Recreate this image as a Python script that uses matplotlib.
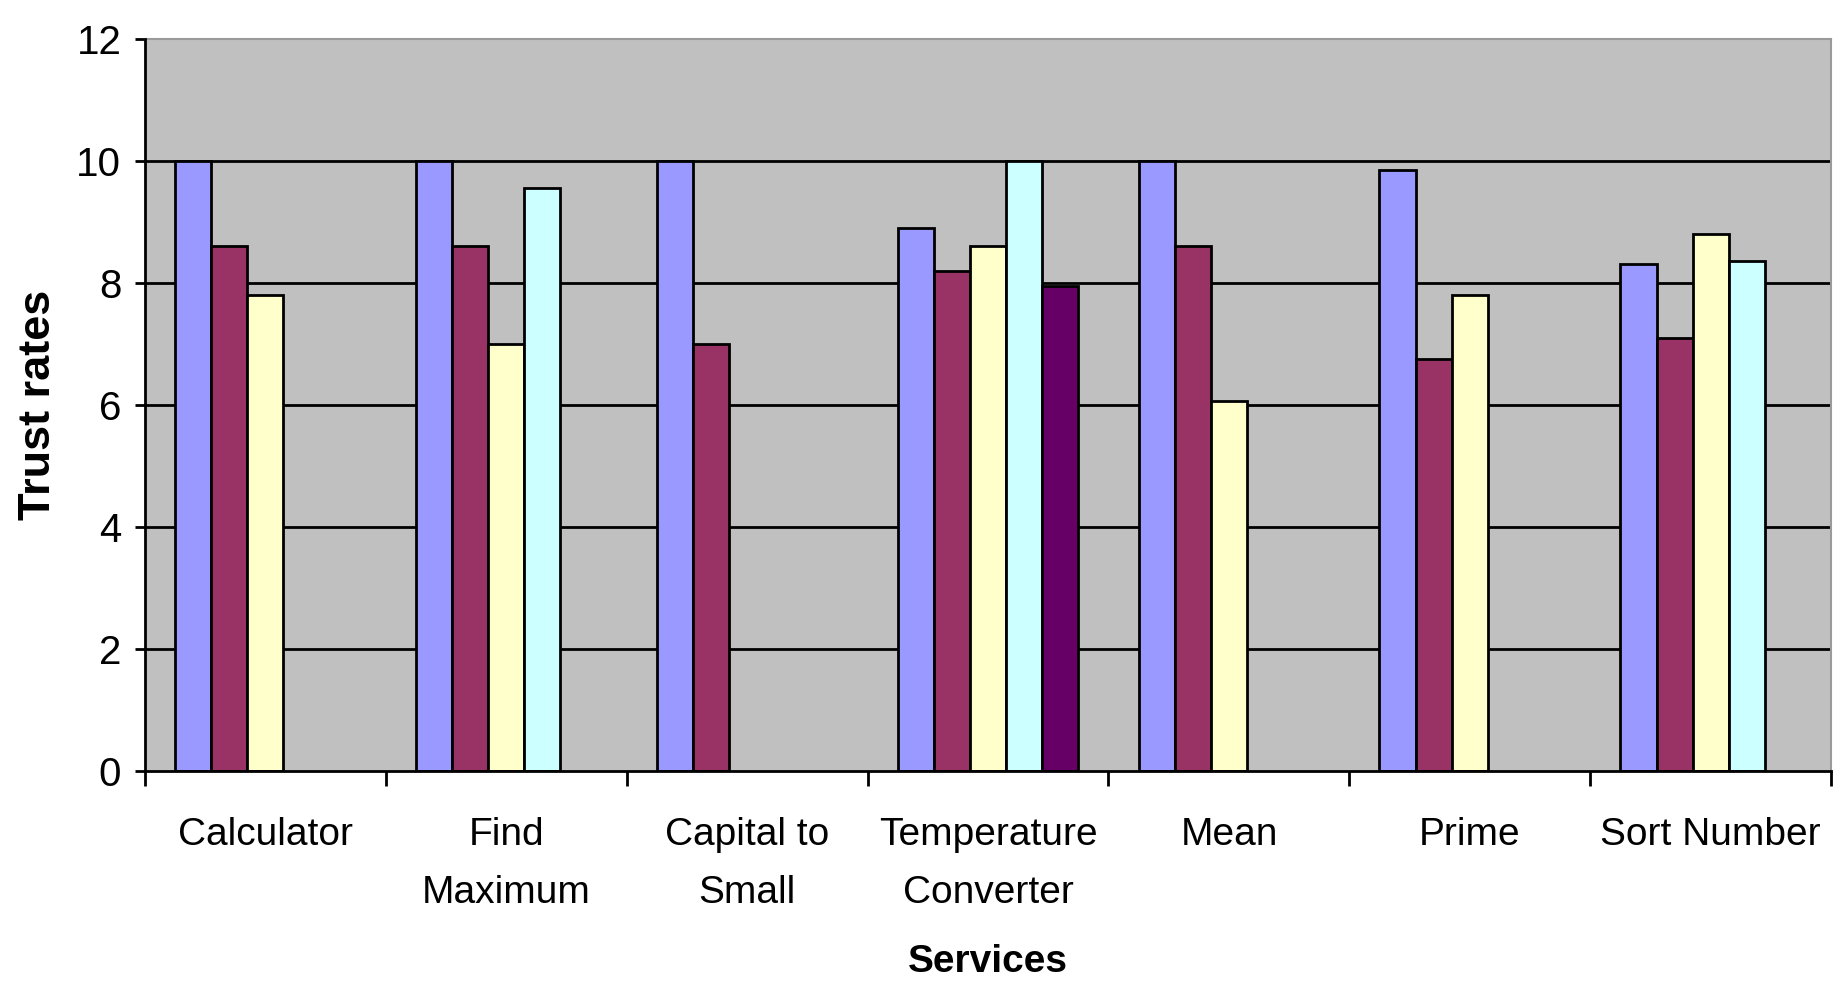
import matplotlib.pyplot as plt
import numpy as np

services = ["Calculator", "Find\nMaximum", "Capital to\nSmall", "Temperature\nConverter",
            "Mean", "Prime", "Sort Number"]

# trust rate of each service, one list per series (nan = no bar)
nan = np.nan
rates_1 = [10.0, 10.0, 10.0, 8.9, 10.0, 9.85, 8.3]
rates_2 = [8.6, 8.6, 7.0, 8.2, 8.6, 6.75, 7.1]
rates_3 = [7.8, 7.0, nan, 8.6, 6.07, 7.8, 8.8]
rates_4 = [nan, 9.55, nan, 10.0, nan, nan, 8.35]
rates_5 = [nan, nan, nan, 7.95, nan, nan, nan]

colors = ['#9999FF', '#993366', '#FFFFCC', '#CCFFFF', '#660066']

plt.rcParams['font.family'] = 'Liberation Sans'

fig = plt.figure(figsize=(18.35, 9.82), dpi=100)
ax = fig.add_axes([0.079, 0.2149, 0.9189, 0.7458])
ax.set_facecolor('#C0C0C0')

x = np.arange(len(services))
width = 0.15
for i, (vals, c) in enumerate(zip([rates_1, rates_2, rates_3, rates_4, rates_5], colors)):
    vals = np.array(vals)
    ok = ~np.isnan(vals)
    ax.bar(x[ok] - 0.3 + i * width, vals[ok], width, color=c, edgecolor='black',
           linewidth=2.0, zorder=3)

ax.set_xlim(-0.5, len(services) - 0.5)
ax.set_ylim(0, 12)
ax.set_yticks(np.arange(0, 13, 2))
for v in range(2, 12, 2):
    ax.axhline(v, color='black', lw=2.0, zorder=1)

# group boundaries as major ticks, names on minor ticks
ax.set_xticks(np.arange(-0.5, len(services), 1.0))
ax.set_xticklabels([])
ax.set_xticks(x, minor=True)
ax.set_xticklabels(services, minor=True, fontsize=28, linespacing=1.8)
ax.tick_params(axis='x', which='major', length=11, width=2, direction='out')
ax.tick_params(axis='x', which='minor', length=0, pad=33)
ax.tick_params(axis='y', length=7, width=2, labelsize=29, pad=10)

for s in ['left', 'bottom']:
    ax.spines[s].set_linewidth(2)
    ax.spines[s].set_zorder(4)
for s in ['top', 'right']:
    ax.spines[s].set_color('#9A9A9A')
    ax.spines[s].set_linewidth(1.5)

ax.set_ylabel('Trust rates', fontsize=32.5, fontweight='bold')
ax.yaxis.label.set_va('center')
ax.yaxis.set_label_coords(-0.063, 0.5)
ax.set_xlabel('Services', fontsize=28, fontweight='bold')
ax.xaxis.label.set_va('center')
ax.xaxis.set_label_coords(0.5, -0.261)

plt.savefig('out.png')
